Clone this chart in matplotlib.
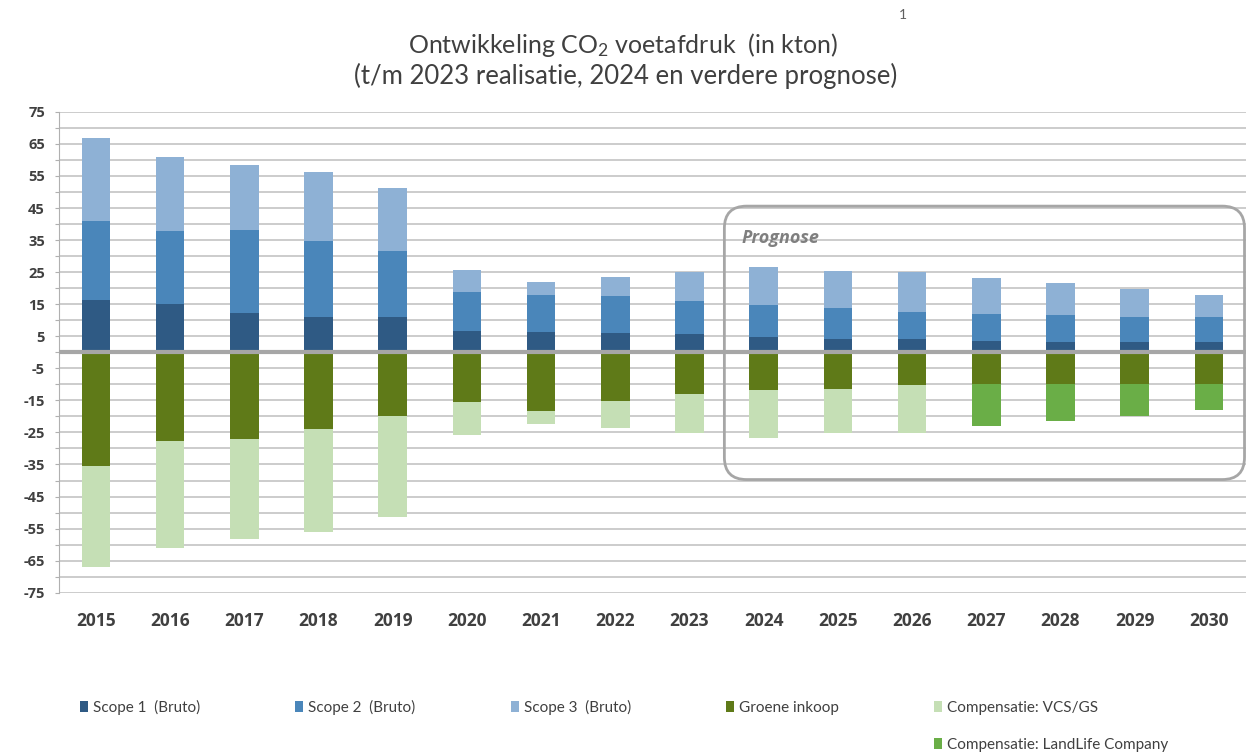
import matplotlib
matplotlib.use('Agg')
import matplotlib.pyplot as plt
from matplotlib.patches import FancyBboxPatch, Patch
import numpy as np

years = ['2015', '2016', '2017', '2018', '2019', '2020', '2021', '2022',
         '2023', '2024', '2025', '2026', '2027', '2028', '2029', '2030']

scope1 = [16.3, 15.0, 12.4, 11.1, 11.1, 6.5, 6.3, 5.9, 5.6, 4.9, 4.0, 4.0, 3.5, 3.2, 3.2, 3.2]
scope2 = [24.8, 22.8, 25.8, 23.7, 20.6, 12.4, 11.5, 11.8, 10.5, 9.7, 9.9, 8.5, 8.5, 8.4, 7.7, 7.7]
scope3 = [25.8, 23.1, 20.1, 21.3, 19.7, 6.8, 4.1, 5.8, 9.0, 11.9, 11.4, 12.6, 11.1, 9.9, 9.0, 7.1]
groene = [-35.6, -27.7, -26.9, -23.9, -19.8, -15.4, -18.2, -15.1, -12.9, -11.7, -11.3, -10.1, -9.9, -9.9, -9.9, -9.9]
vcs_gs = [-31.5, -33.3, -31.5, -32.2, -31.7, -10.3, -4.1, -8.4, -12.2, -14.9, -13.8, -15.0, 0, 0, 0, 0]
landlife = [0, 0, 0, 0, 0, 0, 0, 0, 0, 0, 0, 0, -13.2, -11.6, -10.0, -8.2]

labels = ['Scope 1  (Bruto)', 'Scope 2  (Bruto)', 'Scope 3  (Bruto)',
          'Groene inkoop', 'Compensatie: VCS/GS', 'Compensatie: LandLife Company']
colors = ['#2F5A84', '#4A86BA', '#8EB1D5', '#5F7A18', '#C5DFB5', '#6AAE47']

plt.rcParams['mathtext.fontset'] = 'custom'
plt.rcParams['mathtext.rm'] = 'Lato'
plt.rcParams['mathtext.it'] = 'Lato:italic'

txt = '#404040'
fig = plt.figure(figsize=(12.51, 7.56), dpi=100)
ax = fig.add_axes([0.047, 0.216, 0.949, 0.636])

x = np.arange(len(years))
w = 0.385
s1 = np.array(scope1)
s2 = np.array(scope2)
s3 = np.array(scope3)
g = np.array(groene)
v = np.array(vcs_gs)
l = np.array(landlife)

ax.bar(x, s1, w, color=colors[0], zorder=3)
ax.bar(x, s2, w, bottom=s1, color=colors[1], zorder=3)
ax.bar(x, s3, w, bottom=s1 + s2, color=colors[2], zorder=3)
ax.bar(x, g, w, color=colors[3], zorder=3)
ax.bar(x, v, w, bottom=g, color=colors[4], zorder=3)
ax.bar(x, l, w, bottom=g + v, color=colors[5], zorder=3)

ax.set_xlim(-0.5, 15.5)
ax.set_ylim(-75, 75)
ax.set_yticks(np.arange(-75, 76, 5))
ax.set_yticklabels([str(t) if t % 10 != 0 else '' for t in range(-75, 76, 5)])
ax.yaxis.grid(True, color='#c4c4c4', linewidth=1.2, zorder=0)
ax.axhline(0, color='#a6a6a6', linewidth=3, zorder=4)
ax.set_xticks(x)
ax.set_xticklabels(years)

for sp in ['top', 'right', 'bottom']:
    ax.spines[sp].set_visible(False)
ax.spines['left'].set_color('#b0b0b0')
ax.tick_params(axis='y', length=3, color='#b0b0b0', pad=7, labelcolor=txt)
ax.tick_params(axis='x', length=0, pad=14, labelcolor=txt)
for t in ax.get_yticklabels():
    t.set_fontfamily('Open Sans')
    t.set_fontweight('bold')
    t.set_fontsize(10.5)
for t in ax.get_xticklabels():
    t.set_fontfamily('Open Sans')
    t.set_fontweight('bold')
    t.set_fontsize(12.5)

# prognose box
box = FancyBboxPatch((8.47, -39.7), 15.5 - 8.47 - 0.02, 45.6 + 39.7,
                     boxstyle='round,pad=0,rounding_size=0.3',
                     mutation_aspect=23.1, facecolor='none',
                     edgecolor='#a6a6a6', linewidth=2, zorder=5, clip_on=False)
ax.add_patch(box)
ax.text(8.7, 35.6, 'Prognose', fontfamily='Open Sans', fontweight='bold',
        fontstyle='italic', fontsize=13, color='#7f7f7f', va='center', ha='left', zorder=6)

fig.text(0.498, 0.941, 'Ontwikkeling CO$_2$ voetafdruk  (in kton)', ha='center', va='center',
         fontfamily='Lato', fontsize=18, color=txt)
fig.text(0.5, 0.9, '(t/m 2023 realisatie, 2024 en verdere prognose)', ha='center', va='center',
         fontfamily='Lato', fontsize=18.5, color=txt)
fig.text(0.722, 0.98, '1', ha='center', va='center', fontfamily='Lato', fontsize=10, color='#606060')

# legend with blank fillers so the LandLife entry sits under VCS/GS
blank = Patch(facecolor='none', edgecolor='none')
handles = []
leg_labels = []
for i in range(5):
    handles.append(Patch(facecolor=colors[i]))
    leg_labels.append(labels[i])
    if i < 4:
        handles.append(blank)
        leg_labels.append('')
    else:
        handles.append(Patch(facecolor=colors[5]))
        leg_labels.append(labels[5])
fig.legend(handles, leg_labels, ncol=5, loc='center left', bbox_to_anchor=(0.064, 0.04),
           frameon=False, prop={'family': 'Lato', 'size': 11}, labelcolor=txt,
           handlelength=0.5, handleheight=0.8, handletextpad=0.35,
           columnspacing=6.23, labelspacing=1.5, borderaxespad=0, borderpad=0)

fig.savefig('out.png', dpi=100)
